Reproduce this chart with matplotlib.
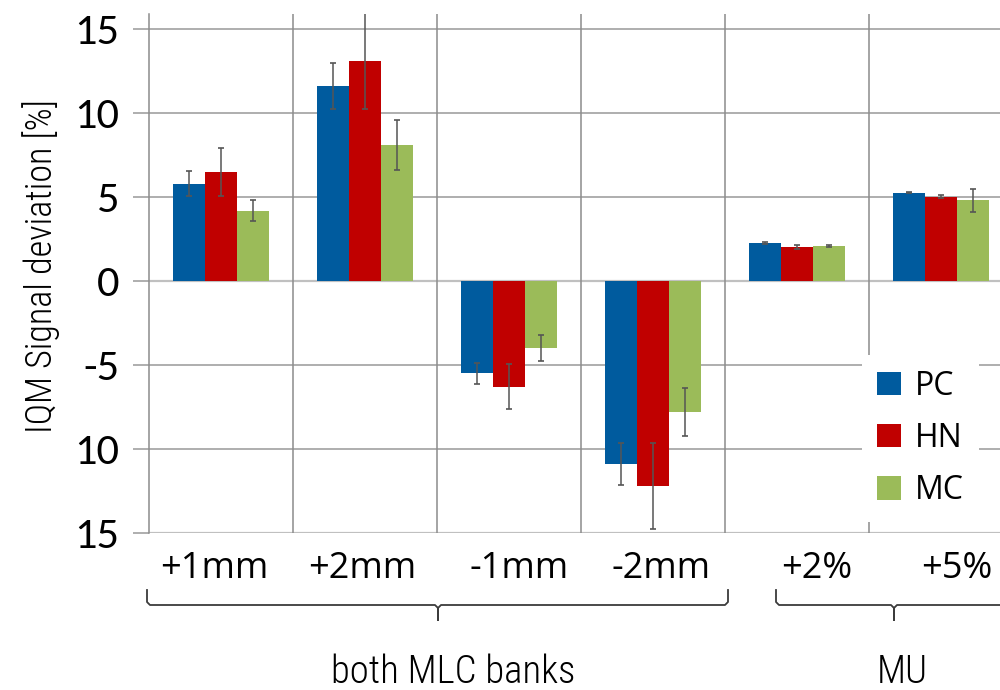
import matplotlib
matplotlib.use("Agg")
import matplotlib.pyplot as plt
from matplotlib.lines import Line2D
import numpy as np

# --- data ---
categories = ["+1mm", "+2mm", "-1mm", "-2mm", "+2%", "+5%"]
series = ["PC", "HN", "MC"]
pc_vals = [5.8, 11.6, -5.5, -10.9, 2.27, 5.27]
hn_vals = [6.5, 13.1, -6.3, -12.2, 2.03, 5.01]
mc_vals = [4.2, 8.1, -4.0, -7.8, 2.07, 4.81]
pc_err = [0.75, 1.37, 0.65, 1.25, 0.04, 0.05]
hn_err = [1.43, 2.85, 1.34, 2.57, 0.13, 0.09]
mc_err = [0.65, 1.46, 0.78, 1.43, 0.07, 0.67]
ytick_vals = [15, 10, 5, 0, -5, -10, -15]
ytick_labels = ["15", "10", "5", "0", "-5", "10", "15"]
group_labels = ["both MLC banks", "MU"]

colors = ["#005B9E", "#C00000", "#9BBB59"]
label_shift = [-0.05, -0.02, 0.07, 0.055, 0.14, 0.11]

W, H = 1000, 690
fig = plt.figure(figsize=(W / 100, H / 100), dpi=100)
ax = fig.add_axes([149 / W, 1 - 533 / H, 864 / W, 519 / H])

x = np.arange(len(categories))
bw = 0.222
vals = [pc_vals, hn_vals, mc_vals]
errs = [pc_err, hn_err, mc_err]
for k, (v, e) in enumerate(zip(vals, errs)):
    pos = x + (k - 1) * bw
    ax.bar(pos, v, width=bw, color=colors[k], label=series[k], zorder=2)
    ax.errorbar(pos, v, yerr=e, fmt="none", ecolor="#555555", elinewidth=1.1,
                capsize=2.3, capthick=1.2, zorder=3)

ax.set_xlim(-0.5, len(categories) - 0.5)
ax.set_ylim(-15, 15.9)

# grid: horizontal at y ticks, vertical at category boundaries
for yv in ytick_vals:
    c = "#c0c0c0" if yv in (0, -15) else "#999999"
    lw = 1.6 if yv in (0, -15) else 1.1
    ax.axhline(yv, color=c, lw=lw, zorder=1)
for b in np.arange(0.5, len(categories) - 0.5, 1.0):
    ax.axvline(b, color="#8c8c8c", lw=1.1, zorder=1)

for s in ["top", "right", "bottom"]:
    ax.spines[s].set_visible(False)
ax.spines["left"].set_color("#8c8c8c")
ax.spines["left"].set_linewidth(1.1)

ax.set_yticks(ytick_vals)
ax.set_yticklabels(ytick_labels, family="Carlito", fontsize=32)
ax.tick_params(axis="y", direction="out", length=11.5, width=1.1,
               color="#999999", pad=10)

ax.set_xticks(x + np.array(label_shift))
ax.set_xticklabels(categories, family="Open Sans", fontsize=26)
ax.tick_params(axis="x", length=0, pad=13)

fig.text(41.5 / W, 1 - 266 / H, "IQM Signal deviation [%]", rotation=90,
         ha="center", va="center", family="Roboto Condensed",
         fontweight="light", fontsize=26)

leg = ax.legend(loc="upper left", bbox_to_anchor=(862 / W, 1 - 355 / H),
                bbox_transform=fig.transFigure, frameon=True, fancybox=False,
                borderaxespad=0, borderpad=0.46, handlelength=0.75,
                handleheight=0.75, handletextpad=0.45, labelspacing=0.6,
                prop={"family": "Open Sans", "size": 23})
leg.get_frame().set_facecolor("white")
leg.get_frame().set_edgecolor("none")
leg.get_frame().set_alpha(1)
leg.set_zorder(5)


def brace(x0, xc, x1, y0=590, y1=605, y2=620):
    pts = [(x0, y0), (x0, y1 - 3), (x0 + 3, y1), (xc - 3, y1), (xc, y1 + 3),
           (xc, y2), (xc, y1 + 3), (xc + 3, y1), (x1 - 3, y1), (x1, y1 - 3),
           (x1, y0)]
    xs = [p[0] / W for p in pts]
    ys = [1 - p[1] / H for p in pts]
    fig.add_artist(Line2D(xs, ys, transform=fig.transFigure, color="#3c3c3c",
                          lw=1.3, solid_joinstyle="round"))


brace(147, 438, 728)
brace(776, 894, 1012)

fig.text(453 / W, 1 - 683 / H, group_labels[0], ha="center", va="baseline",
         family="Roboto Condensed", fontweight="light", fontsize=28)
fig.text(902 / W, 1 - 683 / H, group_labels[1], ha="center", va="baseline",
         family="Roboto Condensed", fontweight="light", fontsize=28)

fig.savefig("out.png", dpi=100)
